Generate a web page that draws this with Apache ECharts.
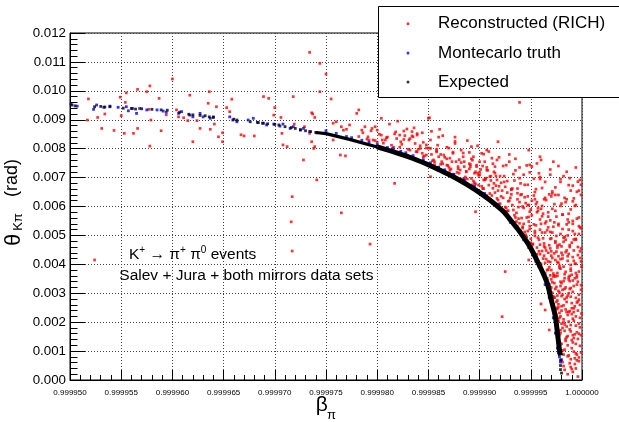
<!DOCTYPE html>
<html>
<head>
<meta charset="utf-8">
<title>theta K pi vs beta pi</title>
<script src="https://cdn.jsdelivr.net/npm/echarts/dist/echarts.min.js"></script>
<style>
  html, body { margin: 0; padding: 0; background: #fff; }
  #chart { width: 619px; height: 422px; }
</style>
</head>
<body>
<div id="chart"></div>
<script>
// axis ticks
const xTicks = [0.99995, 0.999955, 0.99996, 0.999965, 0.99997, 0.999975, 0.99998, 0.999985, 0.99999, 0.999995, 1.0];
const yTicks = [0, 0.001, 0.002, 0.003, 0.004, 0.005, 0.006, 0.007, 0.008, 0.009, 0.010, 0.011, 0.012];

// Reconstructed (RICH) - sparse points on the left / outliers
const recoSparse = [
  [0.9999518,0.00972],[0.9999517,0.00899],[0.9999527,0.00908],[0.9999531,0.00870],[0.9999534,0.00920],
  [0.9999543,0.00863],[0.9999549,0.00978],[0.9999550,0.00914],[0.9999553,0.00853],[0.9999555,0.00993],
  [0.9999554,0.00960],[0.9999562,0.00853],[0.9999566,0.01005],[0.9999566,0.00870],[0.9999575,0.00997],
  [0.9999578,0.01017],[0.9999577,0.00936],[0.9999578,0.00809],[0.9999579,0.00899],[0.9999587,0.00974],
  [0.9999589,0.00862],[0.9999594,0.00917],[0.9999600,0.01041],[0.9999604,0.00934],[0.9999606,0.00910],
  [0.9999611,0.00907],[0.9999615,0.00897],[0.9999617,0.00985],[0.9999620,0.00824],[0.9999624,0.00897],
  [0.9999627,0.00870],[0.9999635,0.00957],[0.9999637,0.00867],[0.9999636,0.00997],[0.9999641,0.00885],
  [0.9999643,0.00945],[0.9999645,0.00841],[0.9999649,0.00855],[0.9999649,0.00824],[0.9999653,0.00942],
  [0.9999656,0.00928],[0.9999658,0.00971],[0.9999667,0.00848],[0.9999670,0.00844],[0.9999689,0.00980],
  [0.9999694,0.00974],[0.9999680,0.00844],[0.9999699,0.00916],[0.9999700,0.00942],[0.9999706,0.00908],
  [0.9999707,0.00853],[0.9999708,0.00813],[0.9999712,0.00807],[0.9999717,0.00634],[0.9999718,0.00980],
  [0.9999719,0.00885],[0.9999734,0.01133],[0.9999734,0.00853],[0.9999736,0.00824],[0.9999739,0.00807],
  [0.9999741,0.00692],[0.9999728,0.00761],[0.9999737,0.00920],[0.9999729,0.00876],
  [0.9999524,0.00415],[0.9999716,0.00547],[0.9999717,0.00446],[0.9999765,0.00578],[0.9999793,0.00470],
  [0.9999896,0.00582],[0.9999925,0.00375],[0.9999922,0.00219],[0.9999744,0.01095],[0.9999750,0.01058],
  [0.9999744,0.00997],[0.9999755,0.00972],[0.9999939,0.00960],[0.9999948,0.00415],[0.9999968,0.00173],
  [0.9999964,0.00242],[0.9999960,0.00263]
];

// Reconstructed (RICH) - middle band above the curve
const recoMid = [
  [0.9999736,0.00924],[0.9999739,0.00908],[0.9999757,0.00888],[0.9999760,0.00893],[0.9999765,0.00876],
  [0.9999767,0.00864],[0.9999770,0.00867],[0.9999773,0.00882],[0.9999780,0.00922],[0.9999782,0.00934],
  [0.9999785,0.00864],[0.9999788,0.00876],[0.9999791,0.00841],[0.9999795,0.00870],[0.9999796,0.00830],
  [0.9999757,0.00830],[0.9999764,0.00778],[0.9999769,0.00775],[0.9999738,0.00801],[0.9999805,0.00830],
  [0.9999816,0.00795],
  [0.9999798,0.00876],[0.9999800,0.00864],[0.9999804,0.00847],[0.9999809,0.00838],[0.9999817,0.00851],
  [0.9999819,0.00835],[0.9999822,0.00847],[0.9999823,0.00824],[0.9999826,0.00861],[0.9999827,0.00845],
  [0.9999829,0.00868],[0.9999831,0.00830],[0.9999834,0.00859],[0.9999835,0.00841],[0.9999837,0.00818],
  [0.9999839,0.00789],[0.9999842,0.00801],[0.9999844,0.00784],[0.9999845,0.00772],[0.9999848,0.00813],
  [0.9999851,0.00907],[0.9999852,0.00801],[0.9999853,0.00780],[0.9999855,0.00761],[0.9999858,0.00789],
  [0.9999860,0.00772],[0.9999861,0.00867],[0.9999863,0.00755],[0.9999865,0.00778],[0.9999868,0.00743],
  [0.9999871,0.00767],[0.9999874,0.00784],[0.9999876,0.00818],[0.9999877,0.00755],[0.9999879,0.00738],
  [0.9999881,0.00726],[0.9999884,0.00772],[0.9999885,0.00755],[0.9999887,0.00720],[0.9999890,0.00787],
  [0.9999891,0.00738],[0.9999892,0.00697],[0.9999894,0.00772],[0.9999896,0.00720],[0.9999897,0.00743],
  [0.9999899,0.00674],[0.9999900,0.00709],[0.9999902,0.00784],[0.9999904,0.00692],[0.9999905,0.00755],
  [0.9999907,0.00726],[0.9999909,0.00674],[0.9999910,0.00703],[0.9999912,0.00767],[0.9999913,0.00663],
  [0.9999915,0.00738],[0.9999917,0.00692],[0.9999918,0.00824],[0.9999817,0.00680],[0.9999852,0.00703],
  [0.9999839,0.00847],[0.9999850,0.00905],[0.9999892,0.00807],[0.9999907,0.00795],[0.9999917,0.00761],
  [0.9999959,0.00772],[0.9999960,0.00761],[0.9999987,0.00674],[0.9999998,0.00692],[0.9999858,0.00798],
  [0.9999904,0.00781],[0.9999926,0.00743],[0.9999956,0.00749],[0.9999995,0.00651],[0.9999996,0.00686],
  [0.9999935,0.00765],[0.9999948,0.00795],[0.9999972,0.00755],[0.9999929,0.00780],
  [0.9999832,0.00835],[0.9999839,0.00852],[0.9999845,0.00822],[0.9999853,0.00860],[0.9999859,0.00812],
  [0.9999864,0.00845],[0.9999870,0.00802],[0.9999876,0.00840],[0.9999882,0.00795],[0.9999888,0.00828],
  [0.9999893,0.00760],[0.9999898,0.00810],[0.9999903,0.00740],[0.9999909,0.00790],[0.9999914,0.00720],
  [0.9999919,0.00770],[0.9999924,0.00705],[0.9999929,0.00755],[0.9999934,0.00690],[0.9999939,0.00735],
  [0.9999944,0.00675],[0.9999949,0.00718],[0.9999954,0.00650],[0.9999959,0.00695],[0.9999964,0.00630],
  [0.9999969,0.00710],[0.9999974,0.00640],[0.9999979,0.00685],[0.9999984,0.00615],[0.9999989,0.00655],
  [0.9999994,0.00605],[0.9999999,0.00675],
  [0.9999862,0.00780],[0.9999873,0.00755],[0.9999885,0.00738],[0.9999895,0.00715],[0.9999906,0.00695],
  [0.9999916,0.00672],[0.9999927,0.00648],[0.9999937,0.00625],[0.9999947,0.00605],[0.9999957,0.00585],
  [0.9999967,0.00565],[0.9999977,0.00540],[0.9999987,0.00520],[0.9999997,0.00505],
  [0.9999848,0.00802],[0.9999868,0.00765],[0.9999880,0.00762],[0.9999890,0.00748],[0.9999901,0.00728],
  [0.9999911,0.00705],[0.9999921,0.00682],[0.9999931,0.00660],[0.9999941,0.00642],[0.9999951,0.00620],
  [0.9999961,0.00602],[0.9999971,0.00592],[0.9999981,0.00572],[0.9999991,0.00550]
];

// Reconstructed (RICH) - points hugging the expected curve from above / right
const recoNearCurve = [
  [0.9999782,0.00842],[0.9999786,0.00855],[0.9999790,0.00833],[0.9999794,0.00862],[0.9999798,0.00828],
  [0.9999802,0.00850],[0.9999806,0.00819],[0.9999810,0.00840],[0.9999814,0.00812],[0.9999818,0.00858],
  [0.9999822,0.00805],[0.9999826,0.00832],[0.9999830,0.00798],[0.9999834,0.00844],[0.9999838,0.00790],
  [0.9999842,0.00810],[0.9999846,0.00775],[0.9999850,0.00802],[0.9999854,0.00758],[0.9999858,0.00792],
  [0.9999862,0.00746],[0.9999866,0.00770],[0.9999870,0.00735],[0.9999874,0.00788],[0.9999878,0.00718],
  [0.9999882,0.00752],[0.9999886,0.00702],[0.9999890,0.00730],[0.9999894,0.00688],[0.9999898,0.00715],
  [0.9999902,0.00670],[0.9999906,0.00698],[0.9999910,0.00645],[0.9999914,0.00680],[0.9999918,0.00622],
  [0.9999922,0.00655],[0.9999926,0.00595],[0.9999930,0.00630],[0.9999934,0.00570],[0.9999938,0.00598],
  [0.9999942,0.00530],[0.9999946,0.00562],[0.9999950,0.00488],[0.9999954,0.00515],[0.9999958,0.00445],
  [0.9999962,0.00420],[0.9999966,0.00380],[0.9999970,0.00320],[0.9999973,0.00285],[0.9999976,0.00210],
  [0.9999978,0.00155],
  [0.9999792,0.00830],[0.9999800,0.00822],[0.9999808,0.00830],[0.9999816,0.00805],[0.9999824,0.00815],
  [0.9999832,0.00795],[0.9999840,0.00798],[0.9999848,0.00778],[0.9999856,0.00755],[0.9999864,0.00748],
  [0.9999872,0.00730],[0.9999880,0.00715],[0.9999888,0.00695],[0.9999896,0.00678],[0.9999904,0.00662],
  [0.9999912,0.00638],[0.9999920,0.00610],[0.9999928,0.00585],[0.9999936,0.00548],[0.9999944,0.00512],
  [0.9999952,0.00470],[0.9999956,0.00435],[0.9999960,0.00402],[0.9999964,0.00370],[0.9999968,0.00328],
  [0.9999971,0.00280],[0.9999975,0.00225],[0.9999977,0.00170],[0.9999979,0.00125],
  [0.9999804,0.00905],[0.9999812,0.00885],[0.9999820,0.00895],[0.9999836,0.00872],[0.9999844,0.00855],
  [0.9999852,0.00830],[0.9999860,0.00840],[0.9999868,0.00805],[0.9999876,0.00825],[0.9999884,0.00785],
  [0.9999892,0.00765],[0.9999900,0.00755],[0.9999908,0.00725],[0.9999916,0.00705],[0.9999924,0.00685],
  [0.9999932,0.00662],[0.9999940,0.00640],[0.9999948,0.00605],[0.9999956,0.00580],[0.9999964,0.00510],
  [0.9999970,0.00430],[0.9999976,0.00360],[0.9999980,0.00290]
];

// Reconstructed (RICH) - dense region near beta -> 1
const recoDense = [
  // theta < 0.0015
  [0.9999983,0.00035],[0.9999991,0.00028],[0.9999989,0.00045],[0.9999996,0.00012],[0.9999986,0.00020],
  [0.9999994,0.00040],
  [0.9999981,0.00062],[0.9999984,0.00135],[0.9999987,0.00085],[0.9999990,0.00110],[0.9999993,0.00055],
  [0.9999996,0.00142],[0.9999999,0.00095],[0.9999982,0.00088],[0.9999986,0.00120],[0.9999989,0.00072],
  [0.9999992,0.00145],[0.9999995,0.00068],[0.9999998,0.00118],[0.9999983,0.00105],[0.9999988,0.00058],
  [0.9999991,0.00130],[0.9999994,0.00092],[0.9999997,0.00078],[0.9999985,0.00148],[0.9999990,0.00138],
  [0.9999993,0.00075],[0.9999980,0.00125],
  // 0.0015 - 0.0025
  [0.9999976,0.00245],[0.9999979,0.00162],[0.9999982,0.00210],[0.9999985,0.00185],[0.9999988,0.00238],
  [0.9999991,0.00155],[0.9999994,0.00220],[0.9999997,0.00195],[0.99999995,0.00230],[0.9999977,0.00205],
  [0.9999980,0.00240],[0.9999983,0.00170],[0.9999986,0.00225],[0.9999989,0.00190],[0.9999992,0.00248],
  [0.9999995,0.00165],[0.9999998,0.00215],[0.9999978,0.00232],[0.9999981,0.00180],[0.9999984,0.00244],
  [0.9999987,0.00202],[0.9999990,0.00228],[0.9999993,0.00158],[0.9999996,0.00240],[0.9999975,0.00249],
  [0.9999982,0.00200],[0.9999988,0.00175],[0.9999994,0.00188],[0.9999979,0.00220],[0.9999985,0.00235],
  [0.9999991,0.00212],[0.9999997,0.00160],[0.9999980,0.00195],[0.9999986,0.00152],[0.9999992,0.00235],
  // 0.0025 - 0.0035
  [0.9999966,0.00345],[0.9999969,0.00310],[0.9999971,0.00338],[0.9999973,0.00285],[0.9999975,0.00322],
  [0.9999977,0.00262],[0.9999979,0.00340],[0.9999981,0.00295],[0.9999983,0.00315],[0.9999985,0.00270],
  [0.9999987,0.00348],[0.9999989,0.00288],[0.9999991,0.00305],[0.9999993,0.00255],[0.9999995,0.00330],
  [0.9999997,0.00278],[0.9999999,0.00312],
  [0.9999968,0.00330],[0.9999970,0.00348],[0.9999972,0.00290],[0.9999974,0.00315],[0.9999976,0.00275],
  [0.9999978,0.00302],[0.9999980,0.00335],[0.9999982,0.00258],[0.9999984,0.00320],[0.9999986,0.00292],
  [0.9999988,0.00342],[0.9999990,0.00266],[0.9999992,0.00325],[0.9999994,0.00284],[0.9999996,0.00340],
  [0.9999998,0.00260],
  [0.9999971,0.00302],[0.9999975,0.00270],[0.9999979,0.00325],[0.9999983,0.00280],[0.9999987,0.00300],
  [0.9999991,0.00344],[0.9999995,0.00268],[0.9999973,0.00335],[0.9999977,0.00252],[0.9999981,0.00312],
  [0.9999989,0.00318],[0.9999997,0.00295],
  // 0.0035 - 0.0045
  [0.9999953,0.00442],[0.9999956,0.00415],[0.9999959,0.00435],[0.9999962,0.00372],[0.9999965,0.00448],
  [0.9999968,0.00390],[0.9999971,0.00422],[0.9999974,0.00358],[0.9999977,0.00405],[0.9999980,0.00440],
  [0.9999983,0.00366],[0.9999986,0.00428],[0.9999989,0.00385],[0.9999992,0.00412],[0.9999995,0.00355],
  [0.9999998,0.00445],
  [0.9999955,0.00430],[0.9999958,0.00398],[0.9999961,0.00446],[0.9999964,0.00362],[0.9999967,0.00410],
  [0.9999970,0.00380],[0.9999973,0.00438],[0.9999976,0.00370],[0.9999979,0.00418],[0.9999982,0.00392],
  [0.9999985,0.00448],[0.9999988,0.00360],[0.9999991,0.00425],[0.9999994,0.00402],[0.9999997,0.00375],
  [0.9999960,0.00385],[0.9999963,0.00430],[0.9999966,0.00352],[0.9999969,0.00408],[0.9999972,0.00368],
  [0.9999975,0.00444],[0.9999978,0.00395],[0.9999981,0.00420],[0.9999984,0.00374],[0.9999987,0.00436],
  [0.9999990,0.00364],[0.9999993,0.00402],[0.9999996,0.00432],
  [0.9999964,0.00405],[0.9999969,0.00362],[0.9999974,0.00415],[0.9999979,0.00385],[0.9999984,0.00442],
  [0.9999989,0.00398],[0.9999994,0.00370],[0.9999967,0.00440],[0.9999977,0.00428],[0.9999987,0.00356],
  [0.9999999,0.00410],
  // 0.0045 - 0.0055
  [0.9999934,0.00545],[0.9999937,0.00530],[0.9999940,0.00512],[0.9999943,0.00540],[0.9999946,0.00495],
  [0.9999949,0.00522],[0.9999952,0.00470],[0.9999955,0.00535],[0.9999958,0.00485],[0.9999961,0.00510],
  [0.9999964,0.00458],[0.9999967,0.00528],[0.9999970,0.00490],[0.9999973,0.00545],[0.9999976,0.00465],
  [0.9999979,0.00505],[0.9999982,0.00478],[0.9999985,0.00538],[0.9999988,0.00460],[0.9999991,0.00515],
  [0.9999994,0.00488],[0.9999997,0.00532],
  [0.9999939,0.00542],[0.9999942,0.00525],[0.9999945,0.00502],[0.9999948,0.00548],[0.9999951,0.00462],
  [0.9999954,0.00508],[0.9999957,0.00492],[0.9999960,0.00540],[0.9999963,0.00472],[0.9999966,0.00518],
  [0.9999969,0.00455],[0.9999972,0.00530],[0.9999975,0.00498],[0.9999978,0.00468],[0.9999981,0.00522],
  [0.9999984,0.00485],[0.9999987,0.00545],[0.9999990,0.00475],[0.9999993,0.00505],[0.9999996,0.00460],
  [0.9999999,0.00525],
  [0.9999944,0.00492],[0.9999947,0.00515],[0.9999950,0.00475],[0.9999953,0.00538],[0.9999956,0.00458],
  [0.9999959,0.00520],[0.9999962,0.00490],[0.9999965,0.00548],[0.9999968,0.00466],[0.9999971,0.00510],
  [0.9999974,0.00480],[0.9999977,0.00535],[0.9999980,0.00462],[0.9999986,0.00500],[0.9999992,0.00486],
  [0.9999998,0.00528],
  [0.9999949,0.00532],[0.9999954,0.00498],[0.9999959,0.00468],[0.9999964,0.00542],[0.9999969,0.00512],
  [0.9999974,0.00475],[0.9999983,0.00495],[0.9999991,0.00540],
  // 0.0055 - 0.0065
  [0.9999903,0.00645],[0.9999907,0.00638],[0.9999911,0.00622],[0.9999915,0.00648],[0.9999919,0.00605],
  [0.9999923,0.00630],[0.9999927,0.00585],[0.9999931,0.00642],[0.9999935,0.00562],[0.9999939,0.00615],
  [0.9999943,0.00595],[0.9999947,0.00635],[0.9999951,0.00570],[0.9999955,0.00608],[0.9999959,0.00555],
  [0.9999963,0.00625],[0.9999967,0.00580],[0.9999971,0.00645],[0.9999975,0.00565],[0.9999979,0.00602],
  [0.9999983,0.00630],[0.9999987,0.00575],[0.9999991,0.00618],[0.9999995,0.00558],[0.9999999,0.00640],
  [0.9999913,0.00610],[0.9999917,0.00628],[0.9999921,0.00635],[0.9999925,0.00598],[0.9999929,0.00620],
  [0.9999933,0.00588],[0.9999937,0.00646],[0.9999941,0.00560],[0.9999945,0.00612],[0.9999949,0.00582],
  [0.9999953,0.00638],[0.9999957,0.00595],[0.9999961,0.00566],[0.9999965,0.00622],[0.9999969,0.00552],
  [0.9999973,0.00608],[0.9999977,0.00640],[0.9999981,0.00572],[0.9999985,0.00625],[0.9999989,0.00590],
  [0.9999993,0.00602],[0.9999997,0.00562],
  [0.9999920,0.00598],[0.9999926,0.00572],[0.9999932,0.00605],[0.9999938,0.00558],[0.9999944,0.00632],
  [0.9999950,0.00590],[0.9999956,0.00615],[0.9999962,0.00575],[0.9999968,0.00642],[0.9999974,0.00585],
  [0.9999980,0.00610],[0.9999986,0.00555],[0.9999992,0.00628],
  [0.9999928,0.00618],[0.9999936,0.00578],[0.9999942,0.00600],[0.9999948,0.00564],[0.9999954,0.00625],
  [0.9999960,0.00592],[0.9999970,0.00635],
  // 0.0065 - 0.0075
  [0.9999869,0.00742],[0.9999874,0.00712],[0.9999879,0.00730],[0.9999883,0.00695],[0.9999887,0.00722],
  [0.9999891,0.00745],[0.9999895,0.00682],[0.9999899,0.00708],[0.9999903,0.00662],[0.9999907,0.00735],
  [0.9999911,0.00690],[0.9999915,0.00715],[0.9999919,0.00670],[0.9999923,0.00740],[0.9999927,0.00688],
  [0.9999931,0.00658],[0.9999935,0.00725],[0.9999939,0.00698],[0.9999943,0.00710],[0.9999947,0.00675],
  [0.9999951,0.00738],[0.9999955,0.00660],[0.9999959,0.00702],[0.9999964,0.00685],[0.9999969,0.00728],
  [0.9999974,0.00666],[0.9999979,0.00695],[0.9999985,0.00720],[0.9999991,0.00672],[0.9999997,0.00655],
  [0.9999885,0.00695],[0.9999893,0.00675],[0.9999900,0.00718],[0.9999905,0.00692],[0.9999913,0.00748],
  [0.9999918,0.00655],[0.9999925,0.00668],[0.9999933,0.00712],[0.9999940,0.00680],[0.9999946,0.00742],
  [0.9999953,0.00696],[0.9999961,0.00664],[0.9999971,0.00652],[0.9999982,0.00705],[0.9999994,0.00735],
  [0.9999860,0.00735],[0.9999856,0.00745],[0.9999871,0.00725],[0.9999897,0.00738],[0.9999920,0.00705],
  [0.9999937,0.00662],[0.9999958,0.00715],[0.9999988,0.00698],[0.9999949,0.00744],[0.9999977,0.00740],
  // extra fill, lower right
  [0.9999963,0.00462],[0.9999969,0.00488],[0.9999976,0.00458],[0.9999982,0.00492],[0.9999988,0.00466],
  [0.9999994,0.00485],[0.9999999,0.00455],[0.9999965,0.00418],[0.9999970,0.00445],[0.9999976,0.00408],
  [0.9999981,0.00432],[0.9999986,0.00412],[0.9999992,0.00448],[0.9999998,0.00422],[0.9999967,0.00382],
  [0.9999972,0.00358],[0.9999978,0.00388],[0.9999983,0.00352],[0.9999989,0.00378],[0.9999995,0.00362],
  [0.99999995,0.00392],[0.9999969,0.00320],[0.9999973,0.00362],[0.9999977,0.00308],[0.9999982,0.00342],
  [0.9999988,0.00315],[0.9999993,0.00352],[0.9999999,0.00328],[0.9999972,0.00262],[0.9999976,0.00292],
  [0.9999980,0.00255],[0.9999985,0.00285],[0.9999990,0.00248],[0.9999996,0.00272],[0.9999974,0.00240],
  [0.9999978,0.00215],[0.9999983,0.00192],[0.9999987,0.00235],[0.9999992,0.00205],[0.9999998,0.00182],
  [0.9999979,0.00172],[0.9999984,0.00142],[0.9999989,0.00168],[0.9999994,0.00125],[0.9999999,0.00155],
  [0.9999981,0.00102],[0.9999986,0.00082],[0.9999992,0.00098],[0.9999997,0.00065],[0.9999982,0.00048],
  [0.9999990,0.00038],[0.9999995,0.00088]
];

// Montecarlo truth
const mcTruth = [
  [0.9999501,0.00954],[0.9999507,0.00947],[0.9999523,0.00936],[0.9999526,0.00951],[0.9999533,0.00943],
  [0.9999539,0.00947],[0.9999547,0.00943],[0.9999555,0.00945],[0.9999557,0.00931],[0.9999561,0.00939],
  [0.9999565,0.00922],[0.9999568,0.00939],[0.9999575,0.00934],[0.9999585,0.00934],[0.9999591,0.00930],
  [0.9999594,0.00926],[0.9999606,0.00922],[0.9999609,0.00928],[0.9999617,0.00916],[0.9999620,0.00910],
  [0.9999627,0.00922],[0.9999630,0.00910],[0.9999637,0.00905],[0.9999640,0.00910],[0.9999656,0.00910],
  [0.9999659,0.00899],[0.9999663,0.00893],[0.9999674,0.00899],[0.9999679,0.00905],[0.9999684,0.00890],
  [0.9999689,0.00888],[0.9999692,0.00882],[0.9999699,0.00885],[0.9999705,0.00878],[0.9999708,0.00885],
  [0.9999715,0.00870],[0.9999718,0.00876],[0.9999725,0.00864],[0.9999728,0.00870],[0.9999734,0.00859],
  [0.9999741,0.00855],
  [0.9999750,0.00862],[0.9999760,0.00853],[0.9999770,0.00842],[0.9999775,0.00838],[0.9999785,0.00829],
  [0.9999792,0.00822],[0.9999800,0.00814],[0.9999810,0.00804],[0.9999815,0.00800],[0.9999823,0.00791],
  [0.9999828,0.00786],[0.9999835,0.00776],[0.9999845,0.00762],[0.9999852,0.00751],[0.9999860,0.00736],
  [0.9999866,0.00727],[0.9999875,0.00711],[0.9999885,0.00692],[0.9999895,0.00670],[0.9999905,0.00645],
  [0.9999918,0.00608],[0.9999930,0.00545],[0.9999943,0.00485],[0.9999952,0.00432],[0.9999958,0.00392],
  [0.9999964,0.00330],[0.9999968,0.00285],[0.9999972,0.00215],[0.9999974,0.00162],[0.9999976,0.00110],
  [0.9999978,0.00080],[0.9999979,0.00062],[0.9999980,0.00070],[0.9999977,0.00095],[0.9999970,0.00270],
  [0.9999955,0.00410],[0.9999948,0.00458]
];

// Expected - separate points on the flat part
const expectedDots = [
  [0.9999502,0.00951],[0.9999505,0.00948],[0.9999524,0.00945],[0.9999530,0.00946],[0.9999534,0.00944],
  [0.9999539,0.00945],[0.9999552,0.00940],[0.9999560,0.00939],[0.9999564,0.00937],[0.9999570,0.00938],
  [0.9999580,0.00936],[0.9999589,0.00934],[0.9999595,0.00933],[0.9999607,0.00926],[0.9999616,0.00919],
  [0.9999620,0.00917],[0.9999627,0.00915],[0.9999632,0.00914],[0.9999636,0.00910],[0.9999640,0.00908],
  [0.9999660,0.00902],[0.9999663,0.00899],[0.9999676,0.00893],[0.9999683,0.00891],[0.9999688,0.00888],
  [0.9999693,0.00886],[0.9999700,0.00884],[0.9999704,0.00882],[0.9999710,0.00876],[0.9999716,0.00873],
  [0.9999720,0.00870],[0.9999725,0.00866],[0.9999730,0.00862],[0.9999735,0.00859],[0.9999740,0.00856],
  [0.9999979,0.00069],[0.9999979,0.00050],[0.9999979,0.00036],[0.9999980,0.00024]
];

// Expected - where the points merge into a band (thin start, thick end)
const expectedBandThin = [
  [0.9999740,0.00856],[0.9999750,0.00852],[0.9999773,0.00832],[0.9999800,0.00806]
];
const expectedBand = [
  [0.9999800,0.00806],[0.9999822,0.00782],[0.9999835,0.00766],[0.9999852,0.00741],[0.9999861,0.00726],
  [0.9999871,0.00709],[0.9999881,0.00690],[0.9999891,0.00669],[0.9999900,0.00648],[0.9999909,0.00625],
  [0.9999917,0.00602],[0.9999924,0.00580],[0.9999930,0.00554],[0.9999935,0.00532],[0.9999940,0.00509],
  [0.9999949,0.00462],[0.9999959,0.00392],[0.9999966,0.00335],[0.9999970,0.00277],[0.9999974,0.00219],
  [0.9999976,0.00163],[0.9999978,0.00104],[0.9999979,0.00085]
];

const FONT = 'Liberation Sans, Arial, Helvetica, sans-serif';

const chart = echarts.init(document.getElementById('chart'), null, { renderer: 'canvas' });

const option = {
  animation: false,
  backgroundColor: '#fff',
  grid: {
    left: 70, top: 33, right: 37, bottom: 42,
    show: true, borderColor: '#000', borderWidth: 1
  },
  xAxis: {
    type: 'value',
    min: xTicks[0],
    max: xTicks[xTicks.length - 1],
    interval: xTicks[1] - xTicks[0],
    axisLine: { onZero: false, lineStyle: { color: '#000', width: 1 } },
    axisTick: { inside: true, length: 10, lineStyle: { color: '#000' } },
    minorTick: { show: true, splitNumber: 5, length: 5, lineStyle: { color: '#000' } },
    axisLabel: {
      color: '#000', fontSize: 8, fontFamily: FONT, margin: 9,
      formatter: v => v.toFixed(6)
    },
    splitLine: { show: true, lineStyle: { color: '#444', type: [1, 2], width: 1 } }
  },
  yAxis: {
    type: 'value',
    min: yTicks[0],
    max: yTicks[yTicks.length - 1],
    interval: yTicks[1] - yTicks[0],
    axisLine: { show: true, onZero: false, lineStyle: { color: '#000', width: 1 } },
    axisTick: { show: true, inside: true, length: 15, lineStyle: { color: '#000' } },
    minorTick: { show: true, splitNumber: 5, length: 7.5, lineStyle: { color: '#000' } },
    axisLabel: {
      color: '#000', fontSize: 13.3, fontFamily: FONT, margin: 4,
      formatter: v => v.toFixed(3)
    },
    splitLine: { show: true, lineStyle: { color: '#444', type: [1, 2], width: 1 } }
  },
  legend: {
    orient: 'vertical',
    // the box is laid out from the 3px marker, so left is the marker edge
    left: 406.5, top: 13.7,
    padding: 0,
    itemWidth: 50, itemHeight: 3,
    itemGap: 9.2,
    selectedMode: false,
    textStyle: { color: '#000', fontSize: 17, fontFamily: FONT, lineHeight: 20 },
    data: [
      { name: 'Reconstructed (RICH)', icon: 'circle' },
      { name: 'Montecarlo truth', icon: 'circle' },
      { name: 'Expected', icon: 'circle' }
    ]
  },
  graphic: [
    // legend frame
    {
      type: 'rect', z: 3,
      shape: { x: 378.5, y: 6.5, width: 250, height: 91 },
      style: { fill: '#fff', stroke: '#000', lineWidth: 1 }
    },
    // y title
    {
      type: 'text', x: 14, y: 240, rotation: Math.PI / 2, z: 5,
      style: { text: 'θ', fontSize: 22, fontFamily: FONT, fill: '#000', align: 'center', verticalAlign: 'middle' }
    },
    {
      type: 'text', x: 18, y: 222, rotation: Math.PI / 2, z: 5,
      style: { text: 'Kπ', fontSize: 13, fontFamily: FONT, fill: '#000', align: 'center', verticalAlign: 'middle' }
    },
    {
      type: 'text', x: 12.5, y: 178, rotation: Math.PI / 2, z: 5,
      style: { text: '(rad)', fontSize: 18, fontFamily: FONT, fill: '#000', align: 'center', verticalAlign: 'middle' }
    },
    // x title
    {
      type: 'text', x: 321.7, y: 405, z: 5,
      style: { text: 'β', fontSize: 21, fontFamily: FONT, fill: '#000', align: 'center', verticalAlign: 'middle' }
    },
    {
      type: 'text', x: 331.5, y: 415, z: 5,
      style: { text: 'π', fontSize: 13, fontFamily: FONT, fill: '#000', align: 'center', verticalAlign: 'middle' }
    },
    // annotations
    {
      type: 'text', x: 129, y: 255, z: 5,
      style: {
        text: '{a|K}{s|+}{a| → π}{s|+}{a| π}{s|0}{a| events}',
        align: 'left', verticalAlign: 'middle', fill: '#000',
        rich: {
          a: { fontSize: 15.5, fontFamily: FONT, lineHeight: 20, verticalAlign: 'middle', fill: '#000' },
          s: { fontSize: 10, fontFamily: FONT, lineHeight: 10, verticalAlign: 'top', fill: '#000' }
        }
      }
    },
    {
      type: 'text', x: 119.3, y: 276, z: 5,
      style: {
        text: 'Salev + Jura + both mirrors data sets',
        fontSize: 15.5, fontFamily: FONT, fill: '#000', align: 'left', verticalAlign: 'middle'
      }
    }
  ],
  series: [
    {
      name: 'Reconstructed (RICH)',
      type: 'scatter',
      symbol: 'rect',
      symbolSize: 2.7,
      itemStyle: { color: '#ff0000' },
      data: recoSparse.concat(recoMid, recoNearCurve, recoDense)
    },
    {
      name: 'Montecarlo truth',
      type: 'scatter',
      symbol: 'rect',
      symbolSize: 2.8,
      itemStyle: { color: '#0000ff' },
      data: mcTruth
    },
    {
      name: 'Expected',
      type: 'scatter',
      symbol: 'rect',
      symbolSize: 2.8,
      itemStyle: { color: '#000' },
      data: expectedDots
    },
    {
      name: 'Expected',
      type: 'line',
      showSymbol: false,
      lineStyle: { color: '#000', width: 3.2 },
      itemStyle: { color: '#000' },
      data: expectedBandThin
    },
    {
      name: 'Expected',
      type: 'line',
      showSymbol: false,
      smooth: 0.3,
      lineStyle: { color: '#000', width: 5 },
      itemStyle: { color: '#000' },
      data: expectedBand
    }
  ]
};

chart.setOption(option);
</script>
</body>
</html>
